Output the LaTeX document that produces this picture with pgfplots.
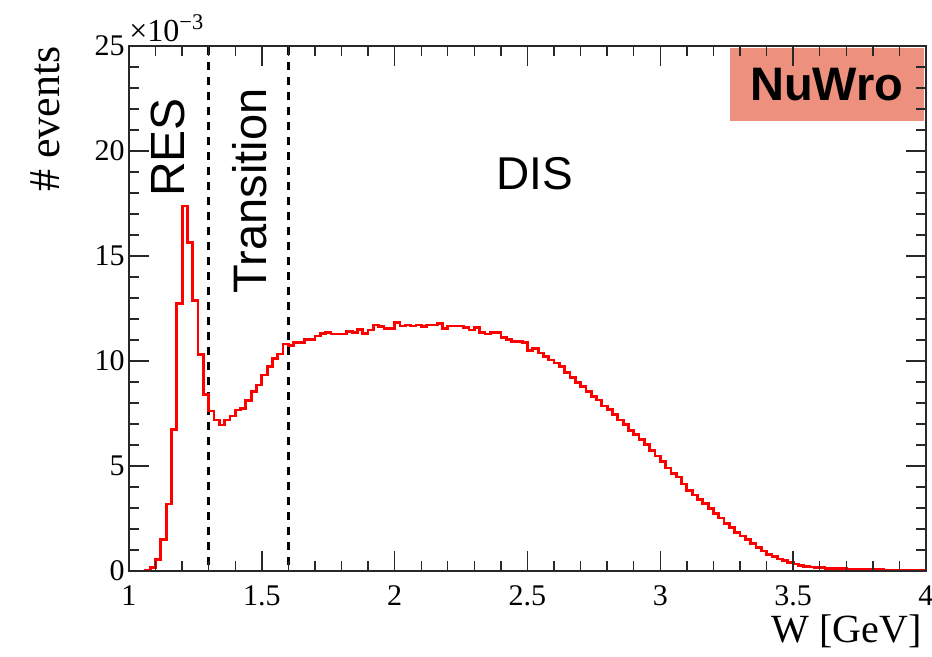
\documentclass[border=0pt]{standalone}
\usepackage{fontspec}
\setmainfont{Liberation Serif}
\newfontfamily\arial{Liberation Sans}
\usepackage{pgfplots}
\pgfplotsset{compat=1.18}
\usepackage{pgfplotstable}
\definecolor{nuwro}{RGB}{238,144,126}
\definecolor{axgray}{RGB}{40,40,40}

\pgfplotstableread{
w val
1.00 0.00
1.02 0.00
1.04 0.00
1.06 0.02
1.08 0.17
1.10 0.56
1.12 1.50
1.14 3.19
1.16 6.75
1.18 12.75
1.20 17.38
1.22 15.64
1.24 12.87
1.26 10.32
1.28 8.41
1.30 7.62
1.32 7.19
1.34 6.95
1.36 7.19
1.38 7.38
1.40 7.67
1.42 7.75
1.44 8.11
1.46 8.54
1.48 8.86
1.50 9.33
1.52 9.73
1.54 10.10
1.56 10.33
1.58 10.81
1.60 10.73
1.62 10.89
1.64 10.89
1.66 11.03
1.68 11.03
1.70 11.19
1.72 11.32
1.74 11.37
1.76 11.29
1.78 11.29
1.80 11.29
1.82 11.40
1.84 11.35
1.86 11.51
1.88 11.32
1.90 11.48
1.92 11.71
1.94 11.63
1.96 11.55
1.98 11.55
2.00 11.84
2.02 11.67
2.04 11.71
2.06 11.67
2.08 11.71
2.10 11.63
2.12 11.71
2.14 11.71
2.16 11.79
2.18 11.55
2.20 11.67
2.22 11.67
2.24 11.67
2.26 11.59
2.28 11.48
2.30 11.59
2.32 11.35
2.34 11.29
2.36 11.35
2.38 11.35
2.40 11.11
2.42 11.03
2.44 10.92
2.46 10.92
2.48 10.87
2.50 10.50
2.52 10.58
2.54 10.38
2.56 10.20
2.58 10.05
2.60 9.90
2.62 9.73
2.64 9.45
2.66 9.23
2.68 8.98
2.70 8.78
2.72 8.54
2.74 8.31
2.76 8.14
2.78 7.86
2.80 7.68
2.82 7.45
2.84 7.19
2.86 6.96
2.88 6.69
2.90 6.51
2.92 6.28
2.94 6.02
2.96 5.73
2.98 5.48
3.00 5.23
3.02 4.90
3.04 4.65
3.06 4.48
3.08 4.14
3.10 3.82
3.12 3.62
3.14 3.42
3.16 3.20
3.18 2.97
3.20 2.75
3.22 2.52
3.24 2.28
3.26 2.08
3.28 1.84
3.30 1.67
3.32 1.50
3.34 1.30
3.36 1.12
3.38 0.95
3.40 0.80
3.42 0.68
3.44 0.57
3.46 0.49
3.48 0.41
3.50 0.33
3.52 0.27
3.54 0.23
3.56 0.19
3.58 0.17
3.60 0.15
3.62 0.13
3.64 0.12
3.66 0.11
3.68 0.10
3.70 0.09
3.72 0.08
3.74 0.08
3.76 0.07
3.78 0.07
3.80 0.06
3.82 0.06
3.84 0.05
3.86 0.05
3.88 0.04
3.90 0.04
3.92 0.04
3.94 0.03
3.96 0.03
3.98 0.03
4.00 0.03
}\histdata

\begin{document}
\begin{tikzpicture}
\useasboundingbox (-64.5pt,-43pt) rectangle (401.5pt,285.5pt);
\begin{axis}[
  at={(0,0)}, anchor=south west,
  scale only axis, width=398.5pt, height=262.5pt,
  xmin=1, xmax=4, ymin=0, ymax=25,
  xtick={1,1.5,2,2.5,3,3.5,4}, ytick={0,5,10,15,20,25},
  minor x tick num=4, minor y tick num=4,
  scaled ticks=false,
  clip mode=individual,
  tick align=inside, tick pos=both,
  major tick length=10pt, minor tick length=5pt,
  axis on top,
  axis line style={axgray, line width=0.7pt},
  every tick/.style={axgray, line width=0.7pt},
  /pgf/number format/assume math mode=true,
  tick label style={font=\fontsize{15}{15}\selectfont},
  yticklabel style={anchor=east, inner sep=0pt, xshift=-2pt},
  xticklabel style={anchor=north, inner sep=0pt, yshift=-7pt},
  xlabel={W [GeV]},
  ylabel={\# events},
  x label style={at={(axis description cs:1,0)}, anchor=base east, yshift=-36pt, xshift=-2pt, inner sep=0pt, font=\fontsize{20}{20}\selectfont},
  y label style={at={(axis description cs:-0.105,1)}, anchor=east, inner sep=0pt, font=\fontsize{22}{22}\selectfont},
]
\addplot[black, line width=1.8pt, dash pattern=on 4pt off 3.5pt] coordinates {(1.3,0.3) (1.3,25)};
\addplot[black, line width=1.8pt, dash pattern=on 4pt off 3.5pt] coordinates {(1.6,0.3) (1.6,25)};
\addplot[red, line width=1.4pt, const plot mark left] table[x=w, y=val] {\histdata};
\node[rotate=90, font=\arial\fontsize{24}{24}\selectfont] at (axis cs:1.147,20.17) {RES};
\node[rotate=90, font=\arial\fontsize{23.5}{23.5}\selectfont] at (axis cs:1.455,18.1) {Transition};
\node[font=\arial\fontsize{23}{23}\selectfont] at (axis cs:2.528,18.9) {DIS};
\node[fill=nuwro, minimum width=97pt, minimum height=36.5pt, inner sep=0pt, font=\arial\bfseries\fontsize{23.5}{23.5}\selectfont] at (axis cs:3.627,23.17) {NuWro};
\node[anchor=base west, inner sep=0pt, font=\fontsize{16}{16}\selectfont] at (rel axis cs:0,1) [yshift=2pt] {×10\textsuperscript{−3}};
\end{axis}
\end{tikzpicture}
\end{document}
